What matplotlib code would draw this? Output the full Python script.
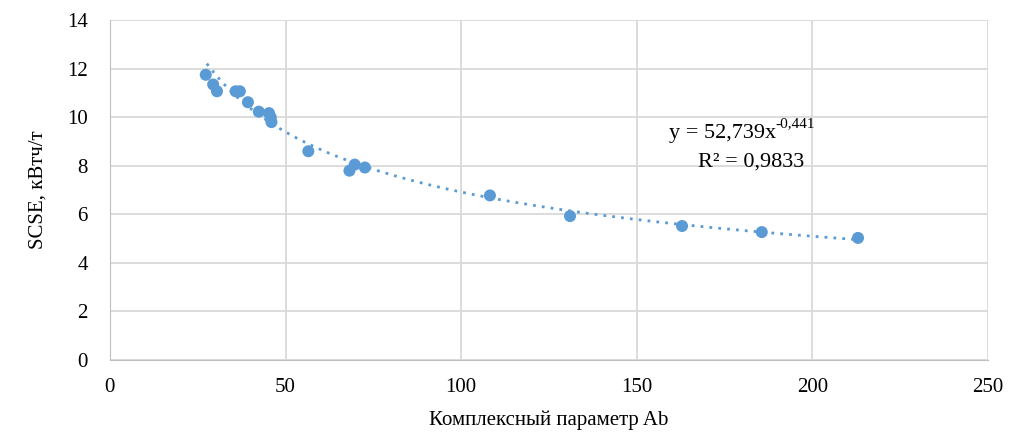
import numpy as np
import matplotlib
matplotlib.use("Agg")
import matplotlib.pyplot as plt

# данные
ab = [27.3, 29.4, 30.5, 35.8, 37.0, 39.3, 42.4, 45.3, 45.8, 46.0,
      56.5, 68.2, 69.7, 72.6, 108.2, 131.0, 162.9, 185.6, 213.0]
scse = [11.75, 11.35, 11.07, 11.07, 11.07, 10.62, 10.23, 10.17, 10.0, 9.8,
        8.6, 7.8, 8.05, 7.93, 6.78, 5.93, 5.52, 5.27, 5.03]

# степенная линия тренда (коэффициенты из подписи)
coef_a = 52.739
coef_b = -0.441
eq_text = "y = 52,739x"
eq_power = "-0,441"
r2_text = "R² = 0,9833"

plt.rcParams["font.family"] = ["Liberation Serif", "DejaVu Serif"]

blue = "#5B9BD5"
grid_c = "#D9D9D9"
fs = 15

fig = plt.figure(figsize=(10.27, 4.38), dpi=100)
ax = fig.add_axes([0.107, 0.178, 0.855, 0.776])

xs = np.linspace(min(ab) + 0.3, max(ab), 200)
ax.plot(xs, coef_a * xs ** coef_b, linestyle=(0, (1, 2.2)), color=blue, linewidth=2)
ax.scatter(ab, scse, s=75, color=blue, zorder=3, edgecolors="none")

ax.set_xlim(0, 250)
ax.set_ylim(0, 14)
ax.set_xticks(range(0, 251, 50))
ax.set_yticks(range(0, 15, 2))
ax.grid(True, color=grid_c, linewidth=1.3)
ax.set_axisbelow(True)
for side in ["top", "right"]:
    ax.spines[side].set_visible(False)
for side in ["left", "bottom"]:
    ax.spines[side].set_color("#BFBFBF")
ax.tick_params(axis="both", length=0, labelsize=fs, labelcolor="black")
ax.tick_params(axis="x", pad=13)
ax.tick_params(axis="y", pad=16)

ax.set_xlabel("Комплексный параметр Ab", fontsize=fs, labelpad=10)
ax.set_ylabel("SCSE, кВтч/т", fontsize=fs, labelpad=14)

# подпись уравнения тренда
t = ax.text(174.3, 9.35, eq_text, fontsize=16, ha="center", va="center")
ax.annotate(eq_power, xy=(1.0, 0.66), xycoords=t, fontsize=11,
            ha="left", va="bottom")
ax.text(182.5, 8.15, r2_text, fontsize=16, ha="center", va="center")

fig.savefig("out.png", dpi=100)
